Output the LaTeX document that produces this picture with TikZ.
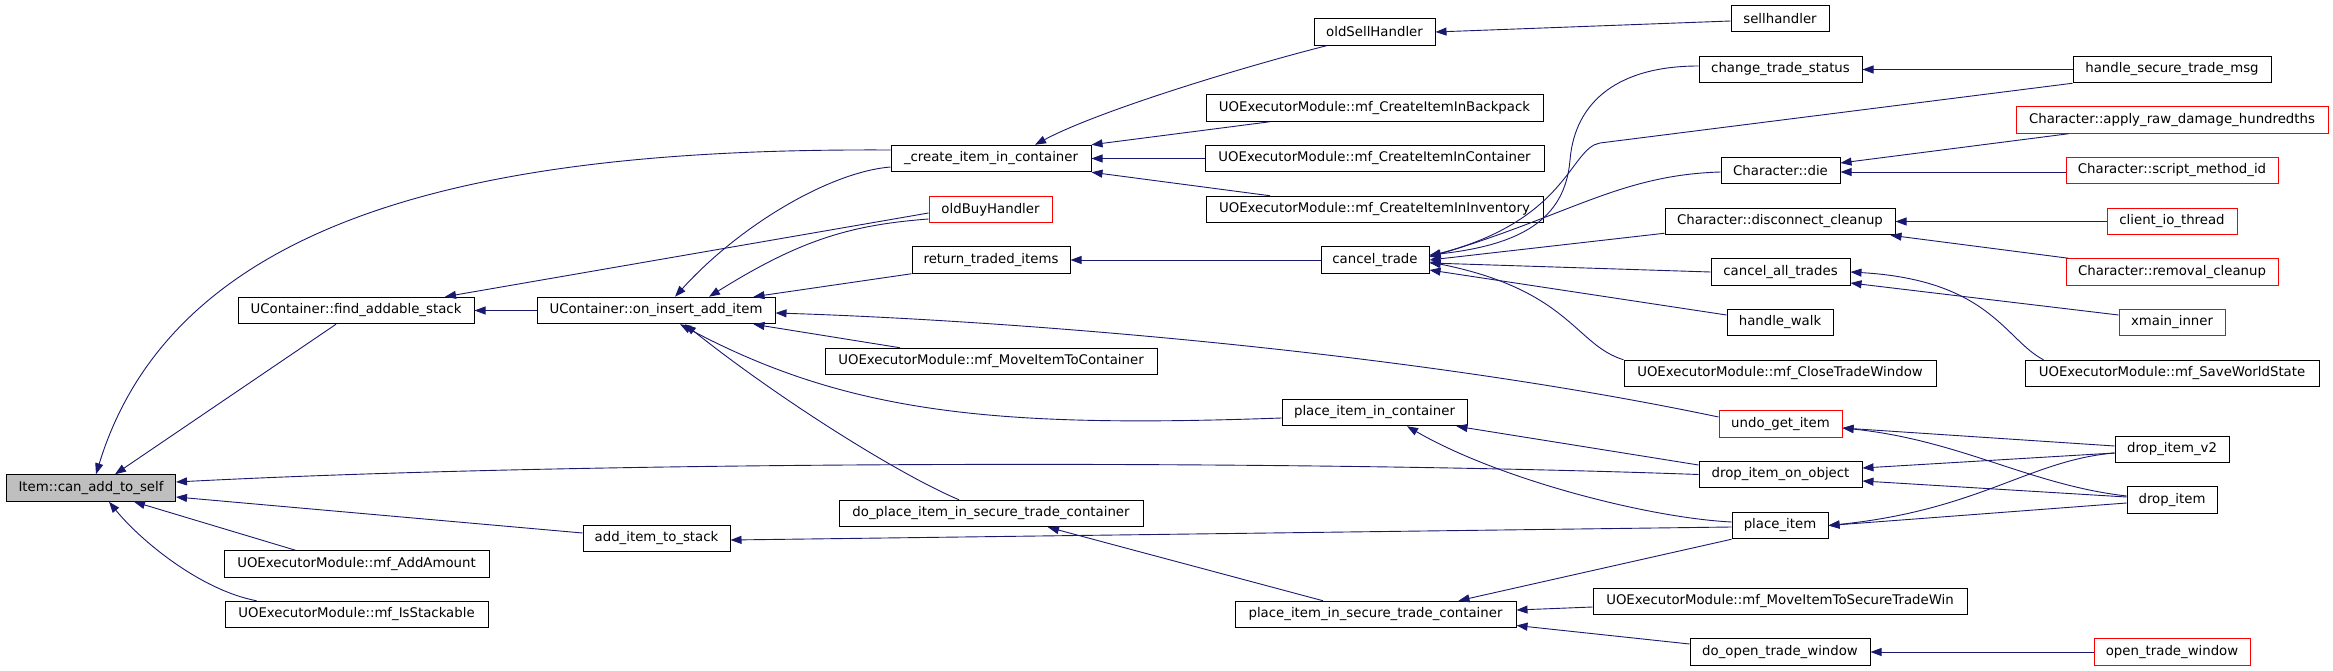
\documentclass[tikz,border=0pt]{standalone}
\usepackage{fontspec}
\setmainfont{DejaVu Sans}
\usetikzlibrary{arrows.meta}
\definecolor{edgeblue}{RGB}{25,25,112}
\definecolor{itemgray}{RGB}{191,191,191}
\begin{document}
\begin{tikzpicture}[x=1pt,y=-1pt,
  box/.style={draw=black,line width=1pt,minimum height=26.5pt,inner sep=2pt,font=\fontsize{13.3}{15}\selectfont,anchor=center},
  redbox/.style={box,draw=red},
  edge/.style={draw=edgeblue,line width=0.9pt,-{Triangle[length=11pt,width=8pt]}}
]
\useasboundingbox[fill=white] (0,0) rectangle (2333,671);
% column 1
\node[box,fill=itemgray,minimum width=169pt] (item) at (91,488) {Item::can\_add\_to\_self};
% column 2
\node[box,minimum width=236pt] (fas) at (356,310.5) {UContainer::find\_addable\_stack};
\node[box,minimum width=265pt] (addamt) at (356.5,564) {UOExecutorModule::mf\_AddAmount};
\node[box,minimum width=263pt] (isstack) at (356.5,614.5) {UOExecutorModule::mf\_IsStackable};
% column 3
\node[box,minimum width=238pt] (oni) at (656,310.5) {UContainer::on\_insert\_add\_item};
\node[box,minimum width=147pt] (ats) at (656.5,538.5) {add\_item\_to\_stack};
% column 4
\node[box,minimum width=200pt] (cic) at (991,158.5) {\_create\_item\_in\_container};
\node[redbox,minimum width=123pt] (obh) at (990.5,209.5) {oldBuyHandler};
\node[box,minimum width=158pt] (rti) at (991,260) {return\_traded\_items};
\node[box,minimum width=332pt] (mitc) at (991,361.5) {UOExecutorModule::mf\_MoveItemToContainer};
\node[box,minimum width=304pt] (dpi) at (991,513.5) {do\_place\_item\_in\_secure\_trade\_container};
% column 5
\node[box,minimum width=121pt] (osh) at (1374.5,32) {oldSellHandler};
\node[box,minimum width=337pt] (cib) at (1374.5,108) {UOExecutorModule::mf\_CreateItemInBackpack};
\node[box,minimum width=339pt] (cicn) at (1374.5,158.5) {UOExecutorModule::mf\_CreateItemInContainer};
\node[box,minimum width=337pt] (cii) at (1374.5,209.5) {UOExecutorModule::mf\_CreateItemInInventory};
\node[box,minimum width=108pt] (ct) at (1375,260) {cancel\_trade};
\node[box,minimum width=185pt] (pic) at (1374.5,412.5) {place\_item\_in\_container};
\node[box,minimum width=281pt] (pist) at (1375.5,614.5) {place\_item\_in\_secure\_trade\_container};
% column 6
\node[box,minimum width=98pt] (sh) at (1780,18.5) {sellhandler};
\node[box,minimum width=163pt] (cts) at (1780.5,69.5) {change\_trade\_status};
\node[box,minimum width=119pt] (die) at (1780.5,170.5) {Character::die};
\node[box,minimum width=230pt] (dc) at (1780,221.5) {Character::disconnect\_cleanup};
\node[box,minimum width=139pt] (cat) at (1780.5,272) {cancel\_all\_trades};
\node[box,minimum width=106pt] (hw) at (1780,322.5) {handle\_walk};
\node[box,minimum width=312pt] (ctw) at (1780,373.5) {UOExecutorModule::mf\_CloseTradeWindow};
\node[redbox,minimum width=123pt] (ugi) at (1780.5,424) {undo\_get\_item};
\node[box,minimum width=163pt] (dioo) at (1780.5,474.5) {drop\_item\_on\_object};
\node[box,minimum width=96pt] (pi) at (1780,525.5) {place\_item};
\node[box,minimum width=374pt] (mitstw) at (1780,601.5) {UOExecutorModule::mf\_MoveItemToSecureTradeWin};
\node[box,minimum width=180pt] (dotw) at (1780,652) {do\_open\_trade\_window};
% column 7
\node[box,minimum width=198pt] (hstm) at (2172,69.5) {handle\_secure\_trade\_msg};
\node[redbox,minimum width=312pt] (ard) at (2172,120) {Character::apply\_raw\_damage\_hundredths};
\node[redbox,minimum width=212pt] (smi) at (2172,170.5) {Character::script\_method\_id};
\node[redbox,minimum width=130pt] (cio) at (2172,221.5) {client\_io\_thread};
\node[redbox,minimum width=212pt] (rc) at (2172,272) {Character::removal\_cleanup};
\node[redbox,minimum width=106pt] (xi) at (2172,322.5) {xmain\_inner};
\node[box,minimum width=294pt] (sws) at (2172,373.5) {UOExecutorModule::mf\_SaveWorldState};
\node[box,minimum width=114pt] (div2) at (2172,449.5) {drop\_item\_v2};
\node[box,minimum width=90pt] (di) at (2172,500) {drop\_item};
\node[redbox,minimum width=156pt] (otw) at (2172,652) {open\_trade\_window};
% edges into Item::can_add_to_self
\draw[edge] ([yshift=8.5pt]cic.west) .. controls (520,148) and (180,200) .. ([xshift=5pt]item.north);
\draw[edge] ([xshift=-20pt]fas.south) -- ([xshift=24pt]item.north);
\draw[edge] (dioo.west) .. controls (1300,460) and (600,460) .. ([yshift=6pt]item.east);
\draw[edge] ([yshift=5.5pt]ats.west) -- ([yshift=-9pt]item.east);
\draw[edge] ([xshift=-61pt]addamt.north) -- ([xshift=43pt]item.south);
\draw[edge] ([xshift=-100pt]isstack.north) .. controls (200,590) and (140,540) .. ([xshift=18pt]item.south);
% find_addable_stack
\draw[edge] (oni.west) -- (fas.east);
\draw[edge] ([yshift=-3.5pt]obh.west) -- ([xshift=89pt]fas.north);
% on_insert_add_item
\draw[edge] ([yshift=-8.5pt]cic.west) .. controls (830,172) and (740,225) .. ([xshift=19pt]oni.north);
\draw[edge] ([yshift=-9.5pt]obh.west) .. controls (850,225) and (800,240) .. ([xshift=53pt]oni.north);
\draw[edge] (rti.south west) -- ([xshift=-22pt]oni.north east);
\draw[edge] ([yshift=7pt]ugi.west) .. controls (1400,350) and (1000,320) .. ([yshift=-2.5pt]oni.east);
\draw[edge] ([xshift=-91pt]mitc.north) -- ([xshift=-22pt]oni.south east);
\draw[edge] ([yshift=-5.5pt]pic.west) .. controls (1000,428) and (850,415) .. ([xshift=24pt]oni.south);
\draw[edge] ([xshift=-32pt]dpi.north) .. controls (900,475) and (780,400) .. ([xshift=29pt]oni.south);
% _create_item_in_container
\draw[edge] ([xshift=-48pt]osh.south) .. controls (1250,65) and (1100,110) .. ([xshift=44pt]cic.north);
\draw[edge] ([xshift=-104.5pt]cib.south) -- (cic.north east);
\draw[edge] (cicn.west) -- (cic.east);
\draw[edge] ([xshift=-104.5pt]cii.north) -- (cic.south east);
\draw[edge] ([yshift=-2.5pt]sh.west) -- (osh.east);
\draw[edge] (ct.west) -- (rti.east);
% cancel_trade
\draw[edge] ([yshift=3.5pt]cts.west) .. controls (1620,66) and (1575,100) .. (1570,160) .. controls (1565,220) and (1520,245) .. ([yshift=5pt]ct.east);
\draw[edge] (hstm.south west) -- (1600,143) .. controls (1570,148) and (1568,220) .. ([yshift=4pt]ct.east);
\draw[edge] ([yshift=-1.5pt]die.west) .. controls (1620,175) and (1570,215) .. ([yshift=3pt]ct.east);
\draw[edge] ([yshift=2pt]dc.south west) -- (ct.east);
\draw[edge] (cat.west) -- ([yshift=-3pt]ct.east);
\draw[edge] ([yshift=7.5pt]hw.west) -- ([yshift=-10pt]ct.east);
\draw[edge] (ctw.north west) .. controls (1575,345) and (1570,290) .. ([yshift=-2pt]ct.east);
% column 6 callees
\draw[edge] (hstm.west) -- (cts.east);
\draw[edge] ([xshift=53pt]ard.south west) -- ([yshift=7.5pt]die.east);
\draw[edge] ([yshift=-1.5pt]smi.west) -- ([yshift=-1.5pt]die.east);
\draw[edge] (cio.west) -- (dc.east);
\draw[edge] ([xshift=3pt]rc.north west) -- ([xshift=-5pt]dc.south east);
\draw[edge] ([yshift=7.5pt]xi.west) -- ([yshift=-11pt]cat.east);
\draw[edge] ([xshift=19pt]sws.north west) .. controls (2005,340) and (1990,280) .. (cat.east);
\draw[edge] ([yshift=3.5pt]div2.west) -- ([yshift=-4pt]ugi.east);
\draw[edge] ([yshift=4pt]di.west) .. controls (2030,485) and (1960,440) .. ([yshift=-4pt]ugi.east);
\draw[edge] ([yshift=-3.5pt]div2.west) -- ([yshift=6.5pt]dioo.east);
\draw[edge] ([yshift=3pt]di.west) -- ([yshift=-6.5pt]dioo.east);
\draw[edge] ([yshift=-3.5pt]div2.west) .. controls (2030,460) and (1980,510) .. (pi.east);
\draw[edge] ([yshift=-3pt]di.west) -- (pi.east);
% place_item and friends
\draw[edge] ([yshift=3.5pt]pi.west) .. controls (1650,518) and (1500,480) .. ([xshift=32.5pt]pic.south);
\draw[edge] ([yshift=9.5pt]dioo.west) -- ([xshift=-11pt]pic.south east);
\draw[edge] ([yshift=-1.5pt]pi.west) -- ([yshift=-1.5pt]ats.east);
\draw[edge] (pi.south west) -- ([xshift=-58pt]pist.north east);
\draw[edge] ([xshift=-52.5pt]pist.north) -- ([xshift=57pt]dpi.south);
\draw[edge] ([yshift=-5.5pt]mitstw.west) -- ([yshift=4.5pt]pist.east);
\draw[edge] ([yshift=8pt]dotw.west) -- ([yshift=-11pt]pist.east);
\draw[edge] (otw.west) -- (dotw.east);
\end{tikzpicture}
\end{document}
